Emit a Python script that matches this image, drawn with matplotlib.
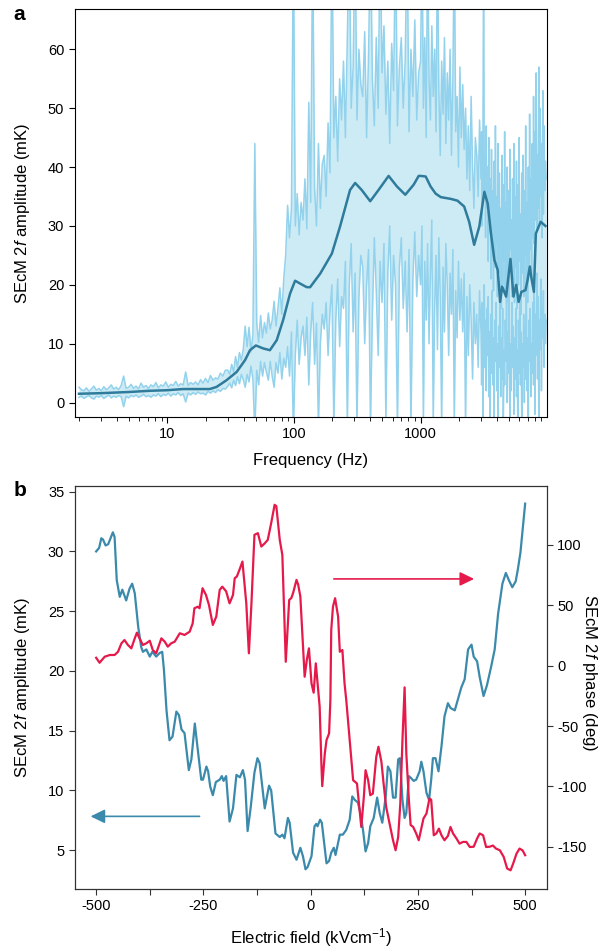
import numpy as np
import matplotlib
matplotlib.use("Agg")
import matplotlib.pyplot as plt
from matplotlib.ticker import FixedLocator, FuncFormatter, LogLocator, NullFormatter

plt.rcParams["font.family"] = ["Liberation Sans", "DejaVu Sans"]
plt.rcParams["mathtext.fontset"] = "custom"
plt.rcParams["mathtext.rm"] = "Liberation Sans"
plt.rcParams["mathtext.it"] = "Liberation Sans:italic"
plt.rcParams["axes.unicode_minus"] = False

# ---- panel a: SEcM 2f amplitude spectrum (upper / lower trace of the band) ----
# 2 - 30 Hz
upper_lo = [2.6, 2.2, 2.0, 2.5, 1.9, 2.3, 2.8, 2.1, 2.4, 2.0,
            2.7, 2.2, 2.5, 3.0, 2.3, 2.6, 2.2, 2.9, 4.5, 2.4,
            2.6, 3.1, 2.4, 2.8, 2.3, 3.3, 2.6, 2.9, 2.4, 3.0,
            2.7, 3.4, 2.5, 3.0, 2.8, 3.5, 2.6, 3.1, 2.9, 3.6,
            2.8, 3.2, 3.0, 5.2, 2.9, 3.4, 3.1, 3.5, 3.0, 3.9,
            3.3, 4.1, 3.4, 4.6, 3.8, 4.2, 4.0, 5.0, 4.5, 5.5]
lower_lo = [0.9, 1.1, 0.7, 1.0, 1.2, 0.8, 0.6, 1.1, 0.9, 1.2,
            0.7, 1.0, 1.3, 0.8, 1.1, 0.9, 1.2, 1.0, -0.7, 1.1,
            0.8, 1.2, 1.0, 1.3, 0.9, 1.1, 1.4, 1.0, 1.2, 0.9,
            1.3, 1.1, 1.5, 1.0, 1.4, 1.2, 1.6, 1.1, 1.5, 1.3,
            1.7, 1.2, 1.5, 0.1, 1.6, 1.3, 1.7, 1.4, 1.8, 1.5,
            1.6, 1.3, 1.9, 1.6, 2.0, 1.7, 2.2, 1.9, 2.4, 2.3]

# 30 - 1000 Hz
upper_mid = [5.5, 4.8, 6.5, 5.2, 7.8, 6.0, 8.5, 7.2, 9.0, 13.0,
             9.5, 12.8, 8.6, 11.5, 44.0, 13.5, 10.2, 14.8, 11.0, 13.6,
             11.8, 15.2, 12.5, 14.0, 17.2, 13.0, 16.0, 19.5, 15.0, 21.0,
             25.0, 33.5, 28.0, 33.0, 80.0, 30.0, 35.5, 28.5, 34.0, 31.0,
             38.0, 29.5, 51.0, 34.0, 80.0, 36.5, 30.0, 44.0, 33.0, 40.5,
             42.0, 35.0, 47.5, 39.0, 80.0, 45.0, 52.0, 41.0, 55.0, 48.0,
             58.0, 45.0, 62.0, 80.0, 50.0, 57.0, 80.0, 48.0, 60.0, 54.0,
             52.0, 63.0, 45.0, 59.0, 80.0, 55.0, 47.0, 62.0, 50.0, 80.0,
             56.0, 64.0, 49.0, 58.0, 44.0, 61.0, 53.0, 80.0, 47.0, 57.0,
             62.0, 50.0, 58.0, 80.0, 46.0, 60.0, 52.0, 65.0, 48.0, 56.0]
lower_mid = [2.8, 3.3, 2.5, 3.8, 2.9, 4.4, 3.2, 4.8, 3.9, 2.6,
             4.8, 3.5, 6.2, 4.0, -5.0, 5.5, 3.0, 7.0, 4.5, 6.8,
             5.2, 3.8, 7.0, 4.5, 2.6, 6.8, 5.0, 8.5, 4.0, 7.5,
             6.0, 9.5, 4.5, 12.0, -5.0, 8.0, 14.0, 6.5, 11.0, 13.0,
             8.0, 14.5, 3.0, 12.0, 17.0, 6.5, 13.5, -4.0, 10.0, 15.0,
             12.5, 17.0, 8.0, 15.5, 20.0, -4.0, 14.0, 21.0, 9.5, 18.0,
             16.0, 24.0, -4.0, 20.0, 27.0, 12.0, 22.0, -4.0, 18.0, 25.0,
             23.0, 10.0, 20.0, 26.0, -4.0, 15.0, 28.0, 19.0, 8.0, 24.0,
             17.0, 27.0, -3.0, 22.0, 30.0, 14.0, 25.0, 20.0, -4.0, 23.0,
             28.0, 16.0, 24.0, 12.0, 26.0, -4.0, 21.0, 29.0, 18.0, 25.0]

# 1000 - 3000 Hz
upper_hi = [58.0, 80.0, 50.0, 62.0, 45.0, 80.0, 55.0, 48.0, 64.0, 52.0,
            60.0, 46.0, 80.0, 53.0, 42.0, 58.0, 49.0, 62.0, 44.0, 56.0,
            48.0, 60.0, 42.0, 55.0, 80.0, 46.0, 52.0, 40.0, 57.0, 45.0,
            54.0, 43.0, 50.0, 38.0, 47.0, 36.0, 52.0, 40.0, 33.0, 45.0,
            42.0, 35.0, 48.0]
lower_hi = [20.0, 30.0, -4.0, 24.0, 14.0, 27.0, 10.0, 22.0, 31.0, -4.0,
            16.0, 25.0, 9.0, 28.0, 18.0, -4.0, 23.0, 12.0, 27.0, 20.0,
            8.0, 22.0, 15.0, 26.0, -4.0, 19.0, 11.0, 24.0, 14.0, 21.0,
            12.0, 22.0, -4.0, 18.0, 8.0, 20.0, 14.0, 4.0, 17.0, 10.0,
            15.0, 6.0, 19.0]

# 3000 - 9800 Hz (dense)
upper_top = [38, 46, 30, 44, 80, 36, 42, 28, 47, 33,
             40, 24, 45, 29, 38, 21, 43, 26, 36, 19,
             41, 23, 47, 27, 35, 18, 44, 22, 39, 25,
             33, 16, 42, 20, 37, 24, 46, 19, 34, 17,
             40, 22, 36, 15, 43, 26, 31, 18, 38, 21,
             44, 17, 35, 23, 41, 16, 37, 20, 45, 24,
             32, 15, 39, 22, 42, 18, 36, 25, 47, 20,
             34, 17, 40, 23, 49, 26, 38, 21, 44, 28,
             52, 27, 46, 31, 56, 29, 42, 33, 57, 30,
             50, 35, 44, 28, 53, 32, 47, 36, 41, 38]
lower_top = [12, 3, 17, -4, 10, 20, 6, 14, 2, 16,
             8, 18, 1, 12, -4, 15, 5, 19, 3, 11,
             -3, 14, 7, 17, 2, 10, -4, 13, 6, 18,
             1, 11, 4, 16, -4, 9, 3, 14, 7, 20,
             0, 12, 5, 15, -4, 10, 2, 17, 6, 13,
             -2, 11, 4, 16, 1, 9, -4, 14, 5, 18,
             3, 12, -3, 10, 6, 15, 0, 13, 4, 19,
             2, 11, -4, 14, 7, 16, 1, 10, 5, 17,
             3, 20, -2, 15, 8, 22, 4, 18, -4, 14,
             9, 21, 2, 16, 11, 19, 6, 15, 10, 14]

# smoothed spectrum
mean_freq = [2, 3, 5, 7.2, 10, 13.3, 17, 21.6, 24.4, 29.3,
             35.2, 41, 44.9, 50, 57, 64.5, 73, 82, 93, 102,
             112, 126, 134, 161, 199, 231, 277, 304, 343, 400,
             465, 559, 651, 757, 881, 966, 1000, 1097, 1200, 1314,
             1443, 1730, 1955, 2210, 2420, 2650, 2910, 3190, 3390, 3600,
             3830, 4070, 4250, 4410, 4740, 5130, 5420, 5700, 5950, 6260,
             6740, 7000, 7300, 7520, 7860, 8140, 8890, 9700]
mean_amp = [1.5, 1.6, 1.8, 2.0, 2.1, 2.3, 2.3, 2.3, 2.65, 3.8,
            5.2, 7.2, 8.9, 9.7, 9.2, 8.9, 10.6, 14.0, 18.5, 20.7,
            20.2, 19.6, 19.6, 21.9, 25.3, 29.9, 36.1, 37.3, 36.1, 34.2,
            36.1, 38.5, 36.7, 35.3, 37.0, 38.5, 38.5, 38.4, 36.7, 35.5,
            34.9, 34.6, 34.3, 33.3, 30.7, 26.8, 29.9, 35.8, 33.8, 28.7,
            24.2, 22.5, 17.1, 19.7, 18.0, 24.4, 18.0, 20.0, 17.1, 18.8,
            19.1, 20.8, 23.1, 21.1, 18.8, 28.7, 30.7, 30.0]

# ---- panel b: amplitude and phase vs electric field ----
amp_field = [-500, -493, -488, -484, -478, -472, -461, -457, -452, -445,
             -439, -430, -422, -416, -410, -402, -395, -391, -383, -375,
             -369, -360, -352, -346, -342, -336, -329, -322, -313, -307,
             -301, -294, -284, -278, -270, -265, -255, -251, -243, -239,
             -234, -228, -221, -212, -207, -203, -197, -189, -181, -173,
             -165, -158, -153, -147, -140, -131, -124, -119, -107, -97,
             -92, -82, -72, -66, -61, -53, -49, -41, -33, -24,
             -18, -12, -7, 2, 9, 13, 16, 22, 26, 37,
             43, 48, 54, 58, 68, 75, 83, 91, 97, 103,
             110, 116, 122, 128, 134, 139, 147, 155, 161, 167,
             175, 180, 186, 192, 198, 204, 208, 214, 219, 223,
             229, 235, 240, 246, 254, 258, 263, 270, 276, 281,
             285, 291, 298, 305, 312, 320, 326, 336, 343, 351,
             359, 367, 375, 380, 388, 394, 403, 411, 421, 429,
             437, 447, 455, 462, 470, 478, 483, 489, 495, 500]
amp_mk = [30.0, 30.3, 31.1, 31.0, 30.5, 30.6, 31.6, 31.2, 27.6, 26.2,
          26.8, 25.9, 26.9, 27.3, 26.5, 23.7, 22.0, 21.6, 21.8, 21.2,
          21.6, 21.2, 21.5, 21.6, 20.1, 16.7, 14.2, 14.5, 16.6, 16.3,
          15.1, 14.8, 11.7, 12.6, 15.6, 14.0, 10.9, 10.9, 12.0, 11.6,
          10.3, 9.6, 10.7, 10.9, 11.2, 10.8, 11.2, 7.4, 8.5, 11.3,
          11.1, 11.7, 10.9, 6.6, 8.5, 11.5, 12.7, 12.3, 8.5, 10.4,
          10.0, 6.4, 6.1, 6.3, 6.0, 7.7, 7.3, 4.8, 4.2, 5.2,
          4.5, 3.4, 3.6, 4.5, 7.0, 7.2, 7.0, 7.55, 7.3, 3.9,
          4.1, 4.8, 5.2, 4.6, 6.3, 6.3, 6.7, 7.55, 9.5, 9.2,
          9.0, 8.1, 6.7, 4.9, 5.6, 7.0, 7.7, 9.4, 8.1, 7.3,
          9.5, 12.0, 11.6, 9.4, 9.4, 12.6, 12.7, 9.2, 7.7, 8.1,
          11.2, 11.0, 10.8, 10.9, 11.6, 12.4, 11.6, 9.8, 9.2, 10.9,
          12.7, 12.7, 11.6, 13.7, 16.2, 17.3, 16.9, 16.7, 17.6, 18.6,
          19.3, 21.8, 22.2, 21.2, 20.8, 19.5, 17.9, 18.8, 20.4, 21.8,
          24.8, 27.3, 28.2, 27.6, 27.0, 27.5, 28.5, 29.9, 32.1, 34.0]

phase_field = [-500, -492, -480, -468, -457, -449, -441, -434, -426, -418,
               -410, -405, -399, -391, -383, -375, -368, -360, -352, -348,
               -340, -333, -325, -317, -305, -294, -282, -275, -271, -263,
               -259, -252, -244, -237, -228, -220, -212, -206, -197, -189,
               -181, -177, -172, -166, -159, -150, -144, -138, -131, -123,
               -115, -107, -100, -92, -84, -80, -72, -66, -58, -50,
               -45, -41, -33, -29, -24, -14, -9, -4, 2, 7,
               12, 17, 21, 25, 27, 33, 37, 43, 46, 48,
               52, 57, 64, 68, 74, 79, 83, 91, 99, 108,
               114, 118, 124, 128, 134, 139, 145, 153, 158, 165,
               170, 176, 184, 192, 198, 204, 209, 214, 219, 223,
               229, 233, 239, 246, 252, 258, 263, 270, 277, 281,
               287, 293, 299, 305, 312, 320, 326, 332, 340, 347,
               355, 363, 371, 380, 388, 394, 402, 409, 417, 425,
               432, 441, 450, 458, 466, 472, 480, 487, 494, 500]
phase_deg = [6.5, 2.4, 7.4, 8.8, 8.8, 11.5, 18.5, 21.2, 17.1, 14.3,
             22.6, 27.3, 22.6, 17.1, 18.5, 20.6, 12.9, 10.2, 18.5, 22.6,
             19.8, 15.7, 18.5, 19.8, 26.8, 25.4, 28.1, 35.0, 47.5, 48.8,
             47.5, 64.1, 58.5, 50.2, 33.7, 40.6, 62.7, 65.4, 61.5, 51.6,
             58.5, 72.4, 73.8, 79.3, 86.2, 51.6, 10.2, 51.6, 108.3, 109.7,
             98.6, 101.3, 104.1, 118.0, 133.2, 132.0, 104.1, 91.7, 3.2, 54.4,
             56.0, 60.0, 71.0, 67.0, 57.1, -9.2, 4.6, 14.3, -14.7, -22.4,
             1.9, -17.5, -34.0, -81.0, -99.8, -72.7, -61.7, -56.1, -28.5, 29.5,
             48.8, 55.8, 40.6, 11.5, 12.9, -14.7, -28.5, -61.7, -94.9, -97.6,
             -119.7, -133.6, -108.7, -86.6, -94.9, -107.3, -106.0, -75.5, -67.2, -79.7,
             -97.6, -117.0, -130.8, -144.6, -152.9, -141.9, -114.2, -61.7, -18.0, -72.7,
             -111.4, -132.0, -133.6, -139.0, -144.6, -135.0, -126.6, -122.5, -110.0, -111.0,
             -140.5, -139.0, -135.0, -140.5, -144.6, -141.0, -133.6, -139.0, -143.2, -147.4,
             -146.0, -146.0, -150.2, -150.0, -143.2, -139.0, -140.5, -150.2, -150.0, -149.0,
             -151.5, -152.9, -158.4, -168.0, -169.5, -164.0, -155.6, -151.5, -153.0, -157.0]

field_ticks = [-500, -375, -250, -125, 0, 125, 250, 375, 500]
field_labels = ["-500", "", "-250", "", "0", "", "250", "", "500"]

c_band = "#cdebf5"
c_edge = "#93d2ec"
c_mean = "#2f7b9b"
c_amp = "#3b8aab"
c_phase = "#e6194b"
c_frame = "#333333"

# frequency grid of the spectrum (denser towards high frequency)
freq = np.concatenate([
    np.geomspace(2, 30, len(upper_lo), endpoint=False),
    np.geomspace(30, 1000, len(upper_mid), endpoint=False),
    np.geomspace(1000, 3000, len(upper_hi), endpoint=False),
    np.geomspace(3000, 9800, len(upper_top)),
])
upper = np.array(upper_lo + upper_mid + upper_hi + upper_top, dtype=float)
lower = np.array(lower_lo + lower_mid + lower_hi + lower_top, dtype=float)

fig = plt.figure(figsize=(6, 9.49), dpi=100)

ax1 = fig.add_axes([0.1245, 0.5609, 0.7865, 0.4293])
ax1.fill_between(freq, lower, upper, color=c_band, lw=0)
ax1.plot(freq, upper, color=c_edge, lw=1.1)
ax1.plot(freq, lower, color=c_edge, lw=1.1)
ax1.plot(mean_freq, mean_amp, color=c_mean, lw=1.8)
ax1.set_xscale("log")
ax1.set_xlim(1.85, 9900)
ax1.set_ylim(-2.4, 66.8)
ax1.xaxis.set_major_locator(LogLocator(base=10))
ax1.xaxis.set_major_formatter(FuncFormatter(lambda v, p: f"{v:g}"))
ax1.xaxis.set_minor_locator(LogLocator(base=10, subs=np.arange(2, 10)))
ax1.xaxis.set_minor_formatter(NullFormatter())
ax1.set_yticks([0, 10, 20, 30, 40, 50, 60])
ax1.tick_params(axis="both", which="major", direction="out", length=4, labelsize=10.5)
ax1.tick_params(axis="x", which="minor", direction="out", length=3)
ax1.set_xlabel("Frequency (Hz)", fontsize=12)
ax1.set_ylabel("SEcM 2$f$ amplitude (mK)", fontsize=12)
ax1.xaxis.set_label_coords(0.5, -0.088)
ax1.yaxis.set_label_coords(-0.09, 0.5)

ax2 = fig.add_axes([0.1245, 0.0632, 0.7865, 0.425])
ax2.plot(amp_field, amp_mk, color=c_amp, lw=1.6)
ax2.set_xlim(-550, 550)
ax2.set_ylim(1.75, 35.5)
ax2.xaxis.set_major_locator(FixedLocator(field_ticks))
ax2.set_xticklabels(field_labels)
ax2.set_yticks([5, 10, 15, 20, 25, 30, 35])
ax2.tick_params(direction="out", length=4, labelsize=10.5, color=c_frame)
ax2.set_xlabel("Electric field (kVcm$^{-1}$)", fontsize=12)
ax2.set_ylabel("SEcM 2$f$ amplitude (mK)", fontsize=12)
ax2.xaxis.set_label_coords(0.5, -0.093)
ax2.yaxis.set_label_coords(-0.09, 0.5)
ax2.annotate("", xy=(-513, 7.83), xytext=(-259, 7.83),
             arrowprops=dict(arrowstyle="-|>,head_length=0.86,head_width=0.42",
                             color=c_amp, lw=1.2, shrinkA=0, shrinkB=0))

ax3 = ax2.twinx()
ax3.plot(phase_field, phase_deg, color=c_phase, lw=1.6)
ax3.set_ylim(-185, 149)
ax3.set_yticks([-150, -100, -50, 0, 50, 100])
ax3.tick_params(direction="out", length=4, labelsize=10.5, color=c_frame)
ax3.annotate("", xy=(381, 71.8), xytext=(54, 71.8),
             arrowprops=dict(arrowstyle="-|>,head_length=0.86,head_width=0.42",
                             color=c_phase, lw=1.2, shrinkA=0, shrinkB=0))
for sp in ax3.spines.values():
    sp.set_color(c_frame)
fig.text(0.983, 0.291, "SEcM 2$f$ phase (deg)", fontsize=12, rotation=270,
         ha="center", va="center")

fig.text(0.023, 0.979, "a", fontsize=15, fontweight="bold", va="baseline")
fig.text(0.022, 0.4773, "b", fontsize=15, fontweight="bold", va="baseline")

fig.savefig("out.png", dpi=100)
